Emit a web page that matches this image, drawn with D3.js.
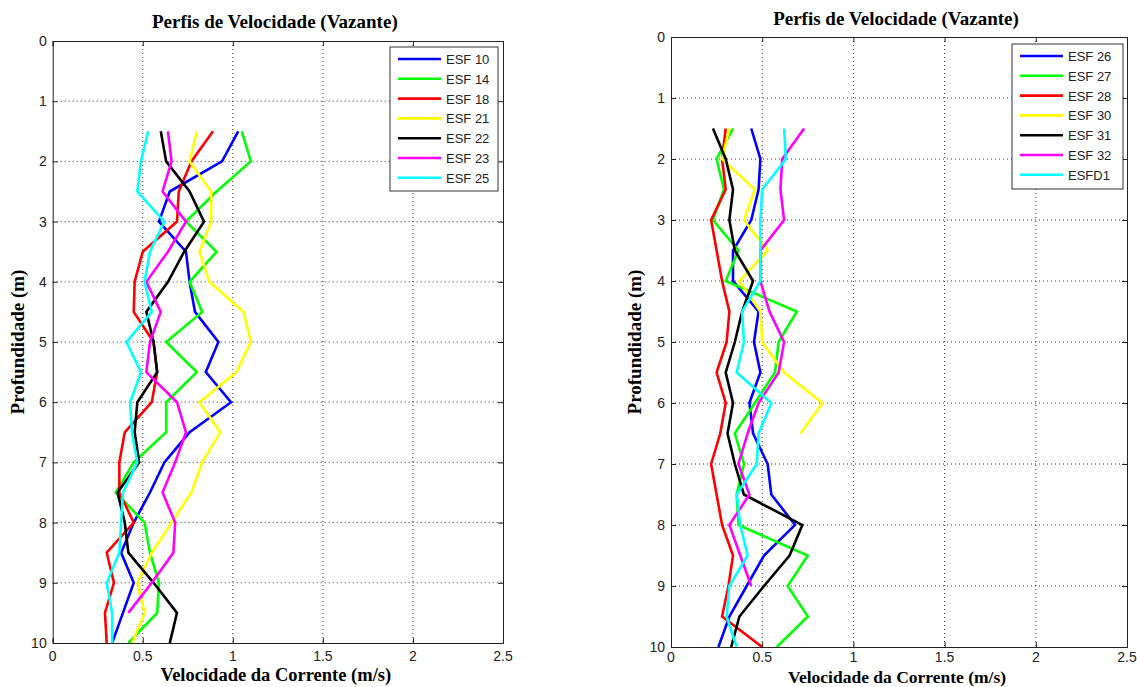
<!DOCTYPE html>
<html><head><meta charset="utf-8">
<script src="https://cdn.jsdelivr.net/npm/d3@7"></script>
<style>body{margin:0;background:#fff}</style>
</head><body>
<svg id="c" width="1137" height="687"></svg>
<script>
const depths = [1.5,2,2.5,3,3.5,4,4.5,5,5.5,6,6.5,7,7.5,8,8.5,9,9.5,10];
const xTicks = [0,0.5,1,1.5,2,2.5];
const yTicks = [0,1,2,3,4,5,6,7,8,9,10];
const colors = ["#0000ff","#00ff00","#ff0000","#ffff00","#000000","#ff00ff","#00ffff"];
const title = "Perfis de Velocidade (Vazante)";
const xLabel = "Velocidade da Corrente (m/s)";
const yLabel = "Profundidade (m)";

const leftNames = ["ESF 10","ESF 14","ESF 18","ESF 21","ESF 22","ESF 23","ESF 25"];
const esf10 = [1.03,0.94,0.65,0.59,0.74,0.76,0.79,0.92,0.85,0.99,0.76,0.62,0.54,0.45,0.38,0.45,0.39,0.33];
const esf14 = [1.05,1.10,0.91,0.74,0.91,0.76,0.83,0.63,0.80,0.63,0.63,0.45,0.35,0.51,0.54,0.59,0.58,0.42];
const esf18 = [0.89,0.77,0.70,0.69,0.50,0.455,0.45,0.56,0.58,0.55,0.40,0.37,0.37,0.45,0.30,0.34,0.29,0.30];
const esf21 = [0.80,0.76,0.88,0.88,0.815,0.87,1.06,1.10,1.02,0.815,0.93,0.83,0.77,0.66,0.55,0.47,0.51,0.44];
const esf22 = [0.60,0.63,0.76,0.84,0.73,0.64,0.52,0.56,0.58,0.47,0.455,0.48,0.36,0.40,0.42,0.56,0.69,0.65];
const esf23 = [0.64,0.66,0.61,0.74,0.64,0.52,0.60,0.54,0.52,0.69,0.74,0.68,0.61,0.68,0.67,0.55,0.42];
const esf25 = [0.53,0.49,0.47,0.62,0.54,0.51,0.55,0.41,0.49,0.43,0.44,0.47,0.39,0.38,0.37,0.30,0.33,0.33];

const rightNames = ["ESF 26","ESF 27","ESF 28","ESF 30","ESF 31","ESF 32","ESFD1"];
const esf26 = [0.44,0.49,0.48,0.44,0.34,0.34,0.48,0.455,0.49,0.43,0.45,0.53,0.55,0.68,0.51,0.415,0.32,0.26];
const esf27 = [0.34,0.25,0.29,0.23,0.37,0.30,0.69,0.59,0.57,0.46,0.35,0.40,0.36,0.37,0.75,0.64,0.75,0.58];
const esf28 = [0.30,0.28,0.30,0.22,0.25,0.28,0.32,0.305,0.25,0.30,0.27,0.22,0.25,0.28,0.34,0.315,0.28,0.50];
const esf30 = [0.32,0.28,0.46,0.40,0.53,0.375,0.49,0.50,0.62,0.83,0.71];
const esf31 = [0.23,0.30,0.34,0.32,0.35,0.45,0.39,0.35,0.30,0.34,0.31,0.35,0.40,0.72,0.65,0.51,0.375,0.33];
const esf32 = [0.73,0.61,0.60,0.62,0.49,0.49,0.54,0.62,0.59,0.48,0.42,0.37,0.43,0.32,0.38,0.44];
const esfd1 = [0.62,0.63,0.50,0.49,0.49,0.49,0.39,0.40,0.36,0.55,0.48,0.47,0.36,0.38,0.42,0.32,0.305,0.36];

const svg = d3.select("#c");
const serif = "Liberation Serif, Times New Roman, serif";
const sans = "Liberation Sans, Arial, sans-serif";

function panel(o) {
  const x = d3.scaleLinear().domain([0,2.5]).range([o.x0,o.x1]);
  const y = d3.scaleLinear().domain([0,10]).range([o.y0,o.y1]);
  const g = svg.append("g");
  g.selectAll(".gx").data(xTicks.slice(1,-1)).join("line")
    .attr("x1",d=>x(d)).attr("x2",d=>x(d)).attr("y1",o.y0).attr("y2",o.y1)
    .attr("stroke","#333").attr("stroke-width",1).attr("stroke-dasharray","1,3");
  g.selectAll(".gy").data(yTicks.slice(1,-1)).join("line")
    .attr("y1",d=>y(d)).attr("y2",d=>y(d)).attr("x1",o.x0).attr("x2",o.x1)
    .attr("stroke","#333").attr("stroke-width",1).attr("stroke-dasharray","1,3");
  const cid = "clip"+o.id;
  svg.append("clipPath").attr("id",cid).append("rect")
    .attr("x",o.x0).attr("y",o.y0).attr("width",o.x1-o.x0).attr("height",o.y1-o.y0);
  const line = d3.line().x(d=>x(d[0])).y(d=>y(d[1]));
  const lg = g.append("g").attr("clip-path",`url(#${cid})`);
  o.series.forEach((s,i)=>{
    lg.append("path").datum(s.map((v,k)=>[v,depths[k]]))
      .attr("d",line).attr("fill","none").attr("stroke",colors[i])
      .attr("stroke-width",2.6).attr("stroke-linejoin","miter");
  });
  const axB = d3.axisTop(x).tickValues(xTicks).tickSize(5).tickFormat("");
  const axT = d3.axisBottom(x).tickValues(xTicks).tickSize(5).tickFormat("");
  const axL = d3.axisRight(y).tickValues(yTicks).tickSize(5).tickFormat("");
  const axR = d3.axisLeft(y).tickValues(yTicks).tickSize(5).tickFormat("");
  [[axB,`translate(0,${o.y1})`],[axT,`translate(0,${o.y0})`],[axL,`translate(${o.x0},0)`],[axR,`translate(${o.x1},0)`]]
    .forEach(([a,t])=>{
      const ag = g.append("g").attr("transform",t).call(a);
      ag.selectAll("path,line").attr("stroke","#222");
    });
  g.selectAll(".xl").data(xTicks).join("text")
    .attr("x",d=>x(d)).attr("y",o.tickY).attr("text-anchor","middle")
    .attr("font-family",sans).attr("font-size",14).attr("fill","#222")
    .text(d=>d);
  g.selectAll(".yl").data(yTicks).join("text")
    .attr("x",o.x0-6).attr("y",d=>y(d)+5).attr("text-anchor","end")
    .attr("font-family",sans).attr("font-size",14).attr("fill","#222")
    .text(d=>d);
  g.append("text").attr("x",(o.x0+o.x1)/2-3).attr("y",o.titleY).attr("text-anchor","middle")
    .attr("font-family",serif).attr("font-weight","bold").attr("font-size",19)
    .text(title);
  g.append("text").attr("x",(o.x0+o.x1)/2-2).attr("y",o.xlabY).attr("text-anchor","middle")
    .attr("font-family",serif).attr("font-weight","bold").attr("font-size",o.xlabSize)
    .text(xLabel);
  g.append("text").attr("transform",`translate(${o.ylabX},${(o.y0+o.y1)/2}) rotate(-90)`).attr("text-anchor","middle")
    .attr("font-family",serif).attr("font-weight","bold").attr("font-size",19)
    .text(yLabel);
  const L = o.leg;
  g.append("rect").attr("x",L.x).attr("y",L.y).attr("width",L.w).attr("height",L.h)
    .attr("fill","#fff").attr("stroke","#333").attr("stroke-width",1);
  o.names.forEach((n,i)=>{
    const yy = L.y+12+i*19.8;
    g.append("line").attr("x1",L.x+8).attr("x2",L.x+51).attr("y1",yy).attr("y2",yy)
      .attr("stroke",colors[i]).attr("stroke-width",2.6);
    g.append("text").attr("x",L.x+56).attr("y",yy+5)
      .attr("font-family",sans).attr("font-size",13).attr("fill","#222").text(n);
  });
}

panel({id:"L",x0:52.7,x1:503,y0:41,y1:643,titleY:28,tickY:661,xlabY:681,xlabSize:18.5,ylabX:24,
  series:[esf10,esf14,esf18,esf21,esf22,esf23,esf25],names:leftNames,
  leg:{x:390,y:47,w:108,h:144}});
panel({id:"R",x0:671,x1:1127,y0:37,y1:647,titleY:25,tickY:662,xlabY:683,xlabSize:17.5,ylabX:641,
  series:[esf26,esf27,esf28,esf30,esf31,esf32,esfd1],names:rightNames,
  leg:{x:1012,y:44,w:111,h:145}});
</script>
</body></html>
